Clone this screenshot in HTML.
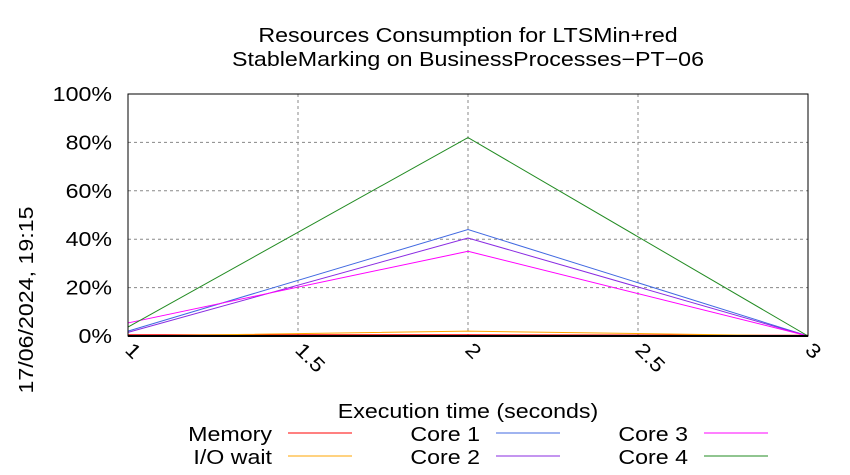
<!DOCTYPE html>
<html><head><meta charset="utf-8"><style>
body{margin:0;background:#fff}
svg{display:block;font-family:"Liberation Sans",sans-serif}
</style></head><body>
<svg id="root" width="850" height="475" viewBox="0 0 850 475">
<g id="grid"></g>
<g id="series"></g>
<g id="axes"></g>
<text x="468" y="42" font-size="20" text-anchor="middle">Resources Consumption for LTSMin+red</text>
<text x="468" y="66" font-size="20" text-anchor="middle">StableMarking on BusinessProcesses−PT−06</text>
<text x="468" y="418" font-size="20" text-anchor="middle">Execution time (seconds)</text>
<text transform="translate(33,300) rotate(-90)" font-size="20" text-anchor="middle">17/06/2024, 19:15</text>
<g id="legend"></g>
</svg>
<script>
const xTicks=[1,1.5,2,2.5,3];
const xTickLabels=["1","1.5","2","2.5","3"];
const yTicks=[0,20,40,60,80,100];
const yTickLabels=["0%","20%","40%","60%","80%","100%"];
const times=[1,2,3];
const memory=[0.5,0.5,0.3];
const ioWait=[0,2,0];
const core1=[2,44,0];
const core2=[1.5,40.5,0];
const core3=[5.4,35,0];
const core4=[3.7,82,0];
const NS="http://www.w3.org/2000/svg";
const X0=128,X1=808,Y0=336,Y1=94;
const xs=v=>X0+(v-1)/(3-1)*(X1-X0);
const ys=v=>Y0-v/100*(Y0-Y1);
function mk(t,a,p){const e=document.createElementNS(NS,t);for(const k in a)e.setAttribute(k,a[k]);p.appendChild(e);return e;}
const grid=document.getElementById('grid'),axes=document.getElementById('axes'),ser=document.getElementById('series'),leg=document.getElementById('legend');
xTicks.forEach((v,i)=>{
 const g=mk('line',{x1:xs(v),x2:xs(v),y1:Y1,y2:Y0,stroke:'#888','stroke-dasharray':'3,3','stroke-width':1},grid);
 
 
 const t=mk('text',{transform:`translate(${xs(v)-4},${351}) rotate(45)`,'font-size':20},axes);
 t.textContent=xTickLabels[i];
 
 
});
yTicks.forEach((v,i)=>{
 const g=mk('line',{x1:X0,x2:X1,y1:ys(v),y2:ys(v),stroke:'#888','stroke-dasharray':'3,3','stroke-width':1},grid);
 
 
 const t=mk('text',{x:X0-16,y:ys(v)+7,'font-size':20,'text-anchor':'end'},axes);
 t.textContent=yTickLabels[i];
 
 
});
const frame=mk('rect',{x:X0,y:Y1,width:X1-X0,height:Y0-Y1,fill:'none',stroke:'#000','stroke-width':1},axes);


const bottom=mk('line',{x1:X0,x2:X1,y1:Y0,y2:Y0,stroke:'#000','stroke-width':2},axes);


const series=[["Memory",memory,"#ff0000"],["I/O wait",ioWait,"#ffa500"],["Core 1",core1,"#4169e1"],["Core 2",core2,"#8a2be2"],["Core 3",core3,"#ff00ff"],["Core 4",core4,"#228b22"]];
series.forEach(([n,d,c],i)=>{
 const p=mk('polyline',{points:times.map((t,j)=>xs(t)+','+ys(d[j])).join(' '),fill:'none',stroke:c,'stroke-width':1},ser);
 
 
 const col=Math.floor(i/2),row=i%2;
 const tx=272+col*208,ty=441+row*23;
 const t=mk('text',{x:tx,y:ty,'font-size':20,'text-anchor':'end'},leg);
 t.textContent=n;
 
 
 const l=mk('line',{x1:tx+16,x2:tx+80,y1:ty-8,y2:ty-8,stroke:c,'stroke-width':1},leg);
 
 
});
document.querySelectorAll('#root text').forEach(t=>{
 const w=t.getComputedTextLength();
 if(w>0){t.setAttribute('textLength',(w*1.16).toFixed(1));t.setAttribute('lengthAdjust','spacingAndGlyphs');}
});
</script>
</body></html>
